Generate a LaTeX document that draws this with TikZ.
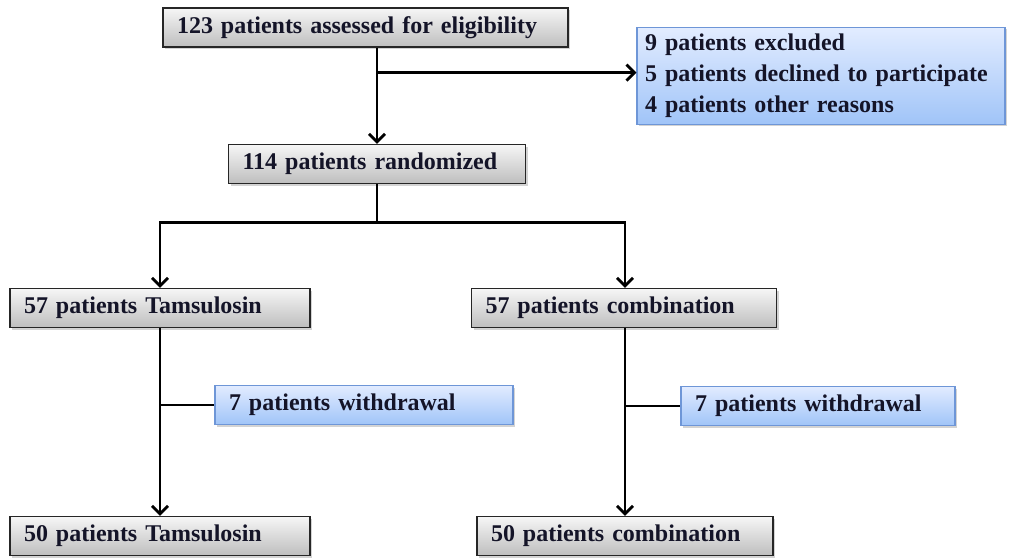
\documentclass[tikz,border=0pt]{standalone}
\usepackage{fontspec}
\setmainfont{Liberation Serif}
\usetikzlibrary{calc,shadows,arrows.meta}

\definecolor{boxtop}{RGB}{246,246,246}
\definecolor{boxbot}{RGB}{190,190,190}
\definecolor{bluetop}{RGB}{226,236,255}
\definecolor{bluebot}{RGB}{160,196,248}
\definecolor{blueline}{RGB}{110,150,215}
\definecolor{txt}{RGB}{20,20,40}

\begin{document}
\begin{tikzpicture}[x=1pt,y=-1pt]

\tikzset{
grybox/.style={draw=black!85, line width=1.2pt, top color=boxtop, bottom color=boxbot,
  drop shadow={shadow xshift=2pt,shadow yshift=-2pt,opacity=.35},
  minimum height=39pt, inner xsep=14pt, align=left, text=txt, font=\bfseries\fontsize{24}{28}\selectfont},
bluebox/.style={grybox, draw=blueline, top color=bluetop, bottom color=bluebot},
line/.style={line width=2.8pt},
arr/.style={line, -{Straight Barb[length=8pt,width=16pt]}}
}

\useasboundingbox (0,0) rectangle (1011,559);

\node[grybox, text width=377pt] (elig) at (365.5,27.5) {123 patients assessed for eligibility};
\node[bluebox, text width=352pt, inner xsep=8pt, minimum height=97pt, font=\bfseries\fontsize{24}{31}\selectfont] (excl) at (821,76)
  {9 patients excluded\\5 patients declined to participate\\4 patients other reasons};
\node[grybox, text width=269pt] (rand) at (377,164) {114 patients randomized};

\node[grybox, text width=272pt] (tamA) at (160,308) {57 patients Tamsulosin};
\node[grybox, text width=277pt] (combA) at (624,308) {57 patients combination};
\node[bluebox, text width=270pt] (wdA) at (364,405) {7 patients withdrawal};
\node[bluebox, text width=246pt] (wdB) at (818,406) {7 patients withdrawal};
\node[grybox, text width=272pt] (tamB) at (160,536) {50 patients Tamsulosin};
\node[grybox, text width=268pt] (combB) at (625,536) {50 patients combination};

% top part
\draw[arr] (elig.south -| rand.north) -- (rand.north);
\coordinate (b1) at ($(elig.south -| rand.north)+(0,25)$);
\draw[arr] (b1) -- (b1 -| excl.west);

% randomisation fork
\coordinate (fork) at ($(rand.south)+(0,38)$);
\draw[line] (rand.south) -- (fork);
\draw[arr] (fork) -| (tamA.north);
\draw[arr] (fork) -| (combA.north -| combB.north);

% follow up
\draw[arr] (tamA.south) -- (tamB.north);
\draw[arr] (combA.south -| combB.north) -- (combB.north);
\draw[line] (tamA.south |- wdA.west) -- (wdA.west);
\draw[line] (combB.north |- wdB.west) -- (wdB.west);

\end{tikzpicture}
\end{document}
